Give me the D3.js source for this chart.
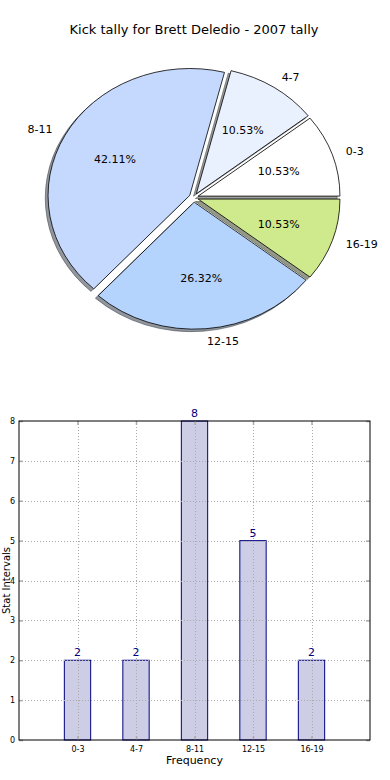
<!DOCTYPE html>
<html>
<head>
<meta charset="utf-8">
<script src="https://cdn.jsdelivr.net/npm/d3@7"></script>
<style>
  html, body { margin: 0; padding: 0; background: #fff; }
  svg { display: block; font-family: "DejaVu Sans", sans-serif; }
</style>
</head>
<body>
<svg id="chart" width="390" height="780"></svg>
<script>
// ---- data ----
const title = "Kick tally for Brett Deledio - 2007 tally";
const categories = ["0-3", "4-7", "8-11", "12-15", "16-19"];
const counts = [2, 2, 8, 5, 2];
const sliceColors = ["#ffffff", "#eaf1fe", "#c5d8fe", "#b4d4fe", "#cfea8c"];
const yTicks = [0, 1, 2, 3, 4, 5, 6, 7, 8];
const xLabel = "Frequency";
const yLabel = "Stat Intervals";

(function () {
const svg = d3.select("#chart");

// ---- title ----
svg.append("text")
  .attr("x", 194).attr("y", 34)
  .attr("text-anchor", "middle")
  .attr("font-size", 13)
  .attr("fill", "#000")
  .text(title);

// ---- pie ----
const cx = 193.8, cy = 197.6, rx = 141.8, ry = 127;
const explode = 4.6;
const total = d3.sum(counts);

const pie = d3.pie().sort(null)
  .startAngle(Math.PI / 2)
  .endAngle(Math.PI / 2 - 2 * Math.PI);
const arcs = pie(counts);
const arcGen = d3.arc().innerRadius(0).outerRadius(1);

const mid = d => Math.PI / 2 - (d.startAngle + d.endAngle) / 2;
const offs = d => {
  const t = mid(d);
  return [explode * Math.cos(t), -explode * Math.sin(t)];
};
const shade = c => { const r = d3.rgb(c); return d3.rgb(r.r * 0.3, r.g * 0.3, r.b * 0.3).toString(); };

const pieG = svg.append("g");
pieG.selectAll("path.shadow").data(arcs).enter().append("path")
  .attr("class", "shadow")
  .attr("transform", d => {
    const [ox, oy] = offs(d);
    return `translate(${cx + ox - 2.8},${cy + oy + 2.5}) scale(${rx},${ry})`;
  })
  .attr("d", arcGen)
  .attr("fill", (d, i) => shade(sliceColors[i]))
  .attr("fill-opacity", 0.55)
  .attr("stroke", (d, i) => shade(sliceColors[i]))
  .attr("stroke-opacity", 0.55)
  .attr("stroke-width", 1)
  .attr("vector-effect", "non-scaling-stroke");

pieG.selectAll("path.wedge").data(arcs).enter().append("path")
  .attr("class", "wedge")
  .attr("transform", d => {
    const [ox, oy] = offs(d);
    return `translate(${cx + ox},${cy + oy}) scale(${rx},${ry})`;
  })
  .attr("d", arcGen)
  .attr("fill", (d, i) => sliceColors[i])
  .attr("stroke", "#000")
  .attr("stroke-width", 0.8)
  .attr("stroke-linejoin", "round")
  .attr("vector-effect", "non-scaling-stroke");

pieG.selectAll("text.lbl").data(arcs).enter().append("text")
  .attr("class", "lbl")
  .attr("x", d => { const [ox] = offs(d); return cx + ox + 1.1 * rx * Math.cos(mid(d)); })
  .attr("y", d => { const [, oy] = offs(d); return cy + oy - 1.1 * ry * Math.sin(mid(d)); })
  .attr("dy", "0.35em")
  .attr("text-anchor", d => Math.cos(mid(d)) > 0 ? "start" : "end")
  .attr("font-size", 11)
  .text((d, i) => categories[i]);

pieG.selectAll("text.pct").data(arcs).enter().append("text")
  .attr("class", "pct")
  .attr("x", d => { const [ox] = offs(d); return cx + ox + 0.6 * rx * Math.cos(mid(d)); })
  .attr("y", d => { const [, oy] = offs(d); return cy + oy - 0.6 * ry * Math.sin(mid(d)); })
  .attr("dy", "0.35em")
  .attr("text-anchor", "middle")
  .attr("font-size", 11)
  .text(d => (100 * d.value / total).toFixed(2) + "%");

// ---- bar chart ----
const pL = 19, pR = 370, pT = 421, pB = 740;
const x = d3.scaleLinear().domain([-1, 5]).range([pL, pR]);
const y = d3.scaleLinear().domain([0, 8]).range([pB, pT]);
const barW = 0.45;

const barG = svg.append("g");

barG.selectAll("rect.bar").data(counts).enter().append("rect")
  .attr("class", "bar")
  .attr("x", (d, i) => x(i - barW / 2))
  .attr("width", (d, i) => x(i + barW / 2) - x(i - barW / 2))
  .attr("y", d => y(d))
  .attr("height", d => y(0) - y(d))
  .attr("fill", "#cdcde5")
  .attr("stroke", "#00007f")
  .attr("stroke-width", 1);

const gridG = barG.append("g");
gridG.selectAll("line.hg").data(yTicks.slice(1, -1)).enter().append("line")
  .attr("x1", pL).attr("x2", pR)
  .attr("y1", d => Math.round(y(d)) + 0.5).attr("y2", d => Math.round(y(d)) + 0.5)
  .attr("stroke", "#aaa").attr("stroke-width", 1).attr("stroke-dasharray", "1,2");
gridG.selectAll("line.vg").data(d3.range(categories.length)).enter().append("line")
  .attr("y1", pT).attr("y2", pB)
  .attr("x1", d => Math.round(x(d)) + 0.5).attr("x2", d => Math.round(x(d)) + 0.5)
  .attr("stroke", "#aaa").attr("stroke-width", 1).attr("stroke-dasharray", "1,2");

const yAxisL = d3.axisLeft(y).tickValues(yTicks).tickSize(-4).tickPadding(4).tickFormat(d3.format("d"));
const yAxisR = d3.axisRight(y).tickValues(yTicks).tickSize(-4).tickFormat("");
const xAxisB = d3.axisBottom(x).tickValues(d3.range(categories.length)).tickSize(-4).tickPadding(6)
  .tickFormat(i => categories[i]);
const xAxisT = d3.axisTop(x).tickValues(d3.range(categories.length)).tickSize(-4).tickFormat("");

function styleAxis(g) {
  g.select(".domain").remove();
  g.selectAll(".tick line").attr("stroke", "#aaa").attr("stroke-width", 1.5);
  g.selectAll(".tick text").attr("font-size", 8).attr("fill", "#000")
    .attr("font-family", "DejaVu Sans, sans-serif");
}
barG.append("g").attr("transform", `translate(${pL},0)`).call(yAxisL).call(styleAxis);
barG.append("g").attr("transform", `translate(${pR},0)`).call(yAxisR).call(styleAxis);
barG.append("g").attr("transform", `translate(0,${pB})`).call(xAxisB).call(styleAxis);
barG.append("g").attr("transform", `translate(0,${pT})`).call(xAxisT).call(styleAxis);

barG.append("rect")
  .attr("x", pL).attr("y", pT)
  .attr("width", pR - pL).attr("height", pB - pT)
  .attr("fill", "none").attr("stroke", "#000").attr("stroke-width", 1);

barG.selectAll("text.val").data(counts).enter().append("text")
  .attr("x", (d, i) => x(i))
  .attr("y", d => y(d) - 4)
  .attr("text-anchor", "middle")
  .attr("font-size", 11)
  .attr("fill", "#00007f")
  .text(d => d);

svg.append("text")
  .attr("x", (pL + pR) / 2).attr("y", 764)
  .attr("text-anchor", "middle").attr("font-size", 11)
  .text(xLabel);
svg.append("text")
  .attr("transform", `translate(9.8,${(pT + pB) / 2}) rotate(-90)`)
  .attr("text-anchor", "middle").attr("font-size", 10)
  .text(yLabel);
})();
</script>
</body>
</html>
